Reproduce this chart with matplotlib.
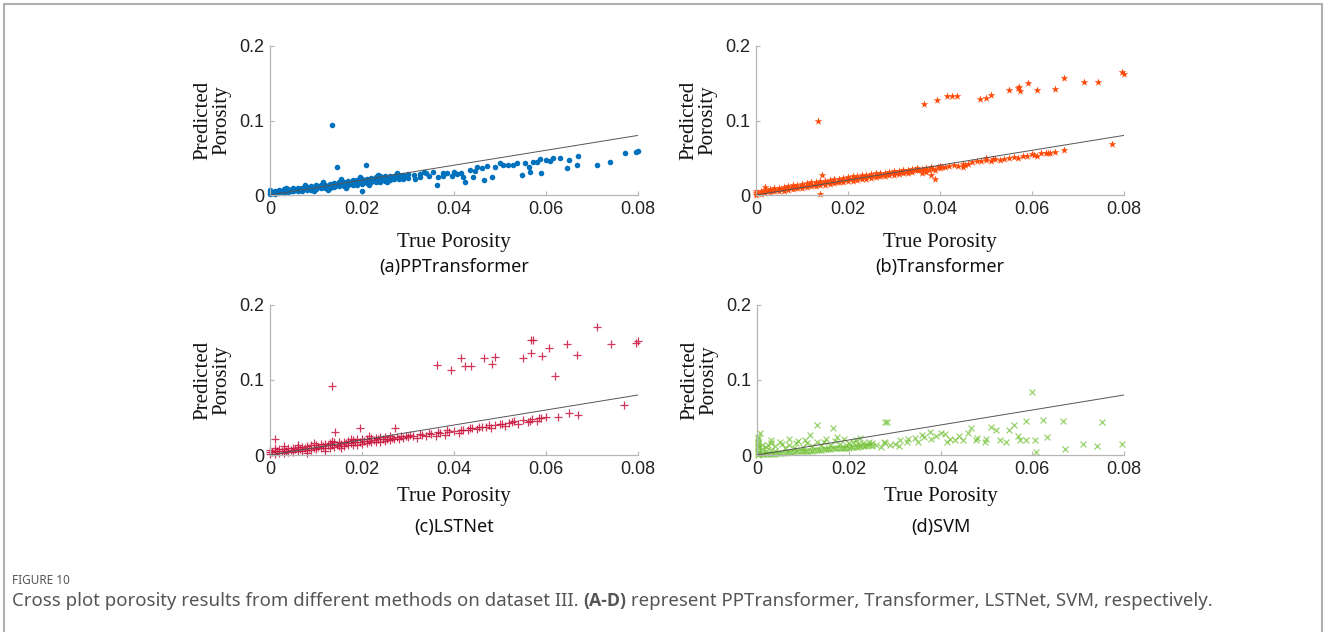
import numpy as np
import matplotlib.pyplot as plt
from matplotlib.patches import Rectangle

# ---- data: (true porosity, predicted porosity) ----
pp_points = [
    (0.000, 0.001), (0.000, 0.004), (0.000, 0.007), (0.001, 0.002), (0.001, 0.006),
    (0.002, 0.003), (0.002, 0.007), (0.003, 0.003), (0.003, 0.008), (0.004, 0.004),
    (0.004, 0.008), (0.005, 0.005), (0.005, 0.009), (0.006, 0.005), (0.006, 0.010),
    (0.007, 0.006), (0.007, 0.010), (0.008, 0.007), (0.008, 0.011), (0.009, 0.007),
    (0.009, 0.012), (0.010, 0.008), (0.010, 0.013), (0.011, 0.009), (0.011, 0.014),
    (0.012, 0.010), (0.012, 0.014), (0.013, 0.010), (0.013, 0.015), (0.014, 0.011),
    (0.014, 0.016), (0.015, 0.012), (0.015, 0.017), (0.016, 0.012), (0.016, 0.018),
    (0.017, 0.013), (0.017, 0.019), (0.018, 0.014), (0.018, 0.020), (0.019, 0.014),
    (0.019, 0.020), (0.020, 0.015), (0.020, 0.021), (0.020, 0.006), (0.021, 0.016),
    (0.021, 0.022), (0.022, 0.017), (0.022, 0.023), (0.023, 0.018), (0.023, 0.024),
    (0.024, 0.018), (0.024, 0.025), (0.025, 0.019), (0.025, 0.025), (0.026, 0.020),
    (0.026, 0.026), (0.027, 0.021), (0.027, 0.026), (0.028, 0.022), (0.028, 0.027),
    (0.029, 0.022), (0.029, 0.027), (0.030, 0.023), (0.030, 0.028),
    (0.0312, 0.027), (0.0326, 0.0246), (0.034, 0.029), (0.0355, 0.031), (0.0362, 0.0134),
    (0.0366, 0.0246), (0.0377, 0.0255), (0.0384, 0.029), (0.0399, 0.031), (0.0406, 0.028),
    (0.042, 0.0246), (0.0424, 0.018), (0.0435, 0.0336), (0.0442, 0.0246), (0.045, 0.038),
    (0.046, 0.0358), (0.0465, 0.020), (0.0471, 0.039), (0.0482, 0.0246), (0.0489, 0.038),
    (0.050, 0.0425), (0.0507, 0.040), (0.0518, 0.040), (0.0529, 0.040), (0.0536, 0.0425),
    (0.0547, 0.027), (0.0554, 0.0425), (0.0562, 0.038), (0.0565, 0.031), (0.0572, 0.0447),
    (0.058, 0.0447), (0.0587, 0.048), (0.059, 0.030), (0.0601, 0.047), (0.0609, 0.046),
    (0.0616, 0.049), (0.063, 0.049), (0.0645, 0.0358), (0.0649, 0.047), (0.0667, 0.040),
    (0.0669, 0.0523), (0.071, 0.040), (0.0739, 0.0447), (0.0772, 0.0568), (0.0796, 0.0582),
    (0.0800, 0.0595),
    (0.0134, 0.094), (0.0145, 0.038), (0.0209, 0.040),
]
pp_band = [
    (0.0005, 0.003), (0.0015, 0.004), (0.0025, 0.005), (0.0035, 0.006), (0.0045, 0.006),
    (0.0055, 0.007), (0.0065, 0.008), (0.0075, 0.009), (0.0085, 0.009), (0.0095, 0.010),
    (0.0105, 0.011), (0.0115, 0.012), (0.0125, 0.012), (0.0135, 0.013), (0.0145, 0.014),
    (0.0155, 0.015), (0.0165, 0.016), (0.0175, 0.016), (0.0185, 0.017), (0.0195, 0.018),
    (0.0205, 0.019), (0.0215, 0.019), (0.0225, 0.020), (0.0235, 0.021), (0.0245, 0.022),
    (0.0255, 0.022), (0.0265, 0.023), (0.0275, 0.024), (0.0285, 0.025), (0.0295, 0.025),
    (0.0325, 0.028), (0.0345, 0.026), (0.0375, 0.030), (0.0415, 0.030), (0.0445, 0.032),
    (0.0095, 0.005), (0.0125, 0.007), (0.0165, 0.010), (0.0215, 0.013), (0.0255, 0.017),
    (0.0035, 0.010), (0.0075, 0.013), (0.0115, 0.017), (0.0155, 0.021), (0.0195, 0.024),
    (0.0235, 0.027), (0.0275, 0.030), (0.0315, 0.022), (0.0335, 0.031), (0.0395, 0.026),
]

tf_points = [
    (0.000, 0.000), (0.000, 0.003), (0.000, 0.006), (0.001, 0.002), (0.001, 0.005),
    (0.002, 0.011), (0.002, 0.003), (0.002, 0.007), (0.003, 0.004), (0.003, 0.008),
    (0.004, 0.005), (0.004, 0.009), (0.005, 0.006), (0.005, 0.010), (0.006, 0.006),
    (0.006, 0.011), (0.007, 0.007), (0.007, 0.012), (0.008, 0.008), (0.008, 0.013),
    (0.009, 0.009), (0.009, 0.014), (0.010, 0.010), (0.010, 0.015), (0.011, 0.011),
    (0.011, 0.016), (0.012, 0.012), (0.012, 0.017), (0.013, 0.012), (0.013, 0.018),
    (0.014, 0.013), (0.014, 0.019), (0.014, 0.002), (0.0143, 0.027), (0.015, 0.014),
    (0.015, 0.019), (0.016, 0.015), (0.016, 0.020), (0.017, 0.016), (0.017, 0.021),
    (0.018, 0.017), (0.018, 0.022), (0.019, 0.018), (0.019, 0.023), (0.020, 0.019),
    (0.020, 0.024), (0.021, 0.019), (0.021, 0.025), (0.022, 0.020), (0.022, 0.026),
    (0.023, 0.021), (0.023, 0.027), (0.024, 0.022), (0.024, 0.027), (0.025, 0.023),
    (0.025, 0.028), (0.026, 0.024), (0.026, 0.029), (0.027, 0.025), (0.027, 0.030),
    (0.028, 0.026), (0.028, 0.030), (0.029, 0.027), (0.029, 0.031), (0.030, 0.027),
    (0.030, 0.032), (0.031, 0.028), (0.031, 0.032), (0.032, 0.029), (0.032, 0.033),
    (0.033, 0.030), (0.033, 0.034), (0.034, 0.031), (0.034, 0.035), (0.035, 0.033),
    (0.035, 0.036), (0.036, 0.030), (0.036, 0.035), (0.037, 0.031), (0.037, 0.036),
    (0.038, 0.027), (0.038, 0.037), (0.039, 0.022), (0.039, 0.034), (0.040, 0.036),
    (0.040, 0.039), (0.041, 0.038), (0.043, 0.040), (0.044, 0.039), (0.045, 0.042),
    (0.045, 0.038), (0.046, 0.041), (0.047, 0.044), (0.048, 0.045), (0.050, 0.047),
    (0.050, 0.050), (0.051, 0.046), (0.052, 0.048), (0.053, 0.047), (0.054, 0.048),
    (0.055, 0.050), (0.057, 0.049), (0.058, 0.052), (0.059, 0.053), (0.060, 0.055),
    (0.061, 0.053), (0.062, 0.056), (0.063, 0.056), (0.064, 0.057), (0.065, 0.058),
    (0.067, 0.061), (0.0773, 0.0685),
    (0.01355, 0.0998), (0.0365, 0.1221), (0.0393, 0.1275), (0.0415, 0.1329),
    (0.0426, 0.1329), (0.0438, 0.1329), (0.0486, 0.1289), (0.0501, 0.1298),
    (0.0510, 0.1338), (0.0551, 0.141), (0.0570, 0.144), (0.0572, 0.1445),
    (0.0574, 0.140), (0.0592, 0.151), (0.0610, 0.141), (0.0649, 0.1423),
    (0.0670, 0.1566), (0.0714, 0.152), (0.0743, 0.152), (0.0796, 0.165), (0.0800, 0.162),
]
tf_band = [
    (0.0005, 0.003), (0.0015, 0.004), (0.0025, 0.005), (0.0035, 0.006), (0.0045, 0.007),
    (0.0055, 0.008), (0.0065, 0.009), (0.0075, 0.010), (0.0085, 0.010), (0.0095, 0.011),
    (0.0105, 0.012), (0.0115, 0.013), (0.0125, 0.014), (0.0135, 0.015), (0.0145, 0.016),
    (0.0155, 0.017), (0.0165, 0.017), (0.0175, 0.018), (0.0185, 0.019), (0.0195, 0.020),
    (0.0205, 0.021), (0.0215, 0.022), (0.0225, 0.023), (0.0235, 0.024), (0.0245, 0.025),
    (0.0255, 0.026), (0.0265, 0.026), (0.0275, 0.027), (0.0285, 0.028), (0.0295, 0.029),
    (0.0305, 0.030), (0.0315, 0.031), (0.0325, 0.031), (0.0335, 0.032), (0.0345, 0.033),
    (0.0355, 0.034), (0.0365, 0.033), (0.0375, 0.034), (0.0385, 0.035), (0.0395, 0.037),
    (0.0405, 0.037), (0.042, 0.039), (0.0455, 0.040), (0.049, 0.046), (0.0515, 0.048),
    (0.056, 0.051), (0.0605, 0.054), (0.0635, 0.057),
]

lst_points = [
    (0.000, 0.001), (0.000, 0.004), (0.000, 0.007), (0.001, 0.002), (0.001, 0.006),
    (0.0011, 0.0213), (0.002, 0.003), (0.002, 0.008), (0.003, 0.003), (0.003, 0.008),
    (0.004, 0.004), (0.004, 0.009), (0.005, 0.004), (0.005, 0.010), (0.006, 0.005),
    (0.006, 0.011), (0.007, 0.006), (0.007, 0.011), (0.008, 0.007), (0.008, 0.012),
    (0.009, 0.007), (0.009, 0.013), (0.010, 0.008), (0.010, 0.014), (0.011, 0.009),
    (0.011, 0.015), (0.012, 0.009), (0.012, 0.015), (0.013, 0.010), (0.013, 0.016),
    (0.014, 0.011), (0.014, 0.017), (0.0141, 0.031), (0.015, 0.012), (0.015, 0.018),
    (0.016, 0.012), (0.016, 0.018), (0.017, 0.013), (0.017, 0.019), (0.018, 0.014),
    (0.018, 0.020), (0.019, 0.014), (0.019, 0.021), (0.0196, 0.0356), (0.020, 0.015),
    (0.020, 0.021), (0.021, 0.016), (0.021, 0.022), (0.022, 0.017), (0.022, 0.023),
    (0.023, 0.017), (0.023, 0.023), (0.024, 0.018), (0.024, 0.024), (0.025, 0.019),
    (0.025, 0.024), (0.026, 0.020), (0.026, 0.025), (0.0272, 0.036), (0.027, 0.021),
    (0.028, 0.022), (0.029, 0.023), (0.030, 0.024), (0.031, 0.026), (0.032, 0.023),
    (0.033, 0.027), (0.034, 0.025), (0.035, 0.028), (0.036, 0.026), (0.037, 0.029),
    (0.038, 0.027), (0.039, 0.031), (0.040, 0.032), (0.041, 0.030), (0.042, 0.034),
    (0.043, 0.033), (0.044, 0.036), (0.045, 0.035), (0.046, 0.037), (0.047, 0.038),
    (0.048, 0.036), (0.049, 0.040), (0.050, 0.042), (0.051, 0.039), (0.052, 0.043),
    (0.053, 0.045), (0.054, 0.041), (0.055, 0.047), (0.056, 0.044), (0.057, 0.048),
    (0.058, 0.046), (0.059, 0.050), (0.060, 0.051), (0.0627, 0.051), (0.0649, 0.0556),
    (0.067, 0.0533), (0.077, 0.0667),
    (0.0134, 0.0924), (0.0364, 0.120), (0.0393, 0.114), (0.0415, 0.1289),
    (0.0424, 0.119), (0.0437, 0.119), (0.0465, 0.1298), (0.0482, 0.121),
    (0.0489, 0.131), (0.0549, 0.1289), (0.0567, 0.1356), (0.0567, 0.1533),
    (0.0572, 0.1533), (0.0591, 0.1324), (0.0607, 0.1422), (0.0620, 0.1058),
    (0.0646, 0.1476), (0.0667, 0.1333), (0.0710, 0.1707), (0.0741, 0.148),
    (0.0796, 0.150), (0.0799, 0.1524),
]
lst_band = [
    (0.0005, 0.004), (0.0015, 0.005), (0.0025, 0.005), (0.0035, 0.006), (0.0045, 0.007),
    (0.0055, 0.008), (0.0065, 0.008), (0.0075, 0.009), (0.0085, 0.010), (0.0095, 0.010),
    (0.0105, 0.011), (0.0115, 0.012), (0.0125, 0.013), (0.0135, 0.013), (0.0145, 0.014),
    (0.0155, 0.015), (0.0165, 0.016), (0.0175, 0.016), (0.0185, 0.017), (0.0195, 0.018),
    (0.0205, 0.019), (0.0215, 0.019), (0.0225, 0.020), (0.0235, 0.021), (0.0245, 0.022),
    (0.0255, 0.022), (0.0265, 0.023), (0.0275, 0.024), (0.0285, 0.025), (0.0295, 0.026),
    (0.0305, 0.027), (0.0325, 0.028), (0.0345, 0.030), (0.0365, 0.031), (0.0385, 0.033),
    (0.0415, 0.033), (0.0435, 0.036), (0.0455, 0.038), (0.0475, 0.040), (0.0505, 0.041),
    (0.0525, 0.044), (0.0565, 0.045), (0.0585, 0.049),
    (0.001, 0.010), (0.003, 0.012), (0.006, 0.013), (0.008, 0.003), (0.012, 0.005),
    (0.0095, 0.016), (0.0135, 0.019), (0.0175, 0.022), (0.0215, 0.025), (0.0155, 0.009),
]

svm_points = [
    (0.0002, 0.000), (0.0002, 0.003), (0.0002, 0.006), (0.0002, 0.009), (0.0002, 0.012),
    (0.0002, 0.015), (0.0002, 0.018), (0.0002, 0.021), (0.0003, 0.024), (0.0007, 0.029),
    (0.001, 0.002), (0.001, 0.008), (0.001, 0.014), (0.002, 0.001), (0.002, 0.005),
    (0.002, 0.011), (0.003, 0.002), (0.003, 0.007), (0.003, 0.016), (0.004, 0.002),
    (0.004, 0.006), (0.004, 0.012), (0.005, 0.003), (0.005, 0.0178), (0.006, 0.003),
    (0.006, 0.009), (0.007, 0.004), (0.007, 0.014), (0.008, 0.004), (0.008, 0.010),
    (0.009, 0.005), (0.009, 0.019), (0.010, 0.005), (0.010, 0.011), (0.011, 0.006),
    (0.011, 0.016), (0.0116, 0.0267), (0.012, 0.006), (0.012, 0.012), (0.013, 0.040),
    (0.013, 0.007), (0.013, 0.018), (0.014, 0.007), (0.014, 0.013), (0.015, 0.008),
    (0.015, 0.022), (0.016, 0.008), (0.016, 0.014), (0.0165, 0.0356), (0.017, 0.009),
    (0.017, 0.019), (0.018, 0.009), (0.018, 0.015), (0.019, 0.010), (0.019, 0.021),
    (0.020, 0.010), (0.020, 0.016), (0.021, 0.011), (0.021, 0.018), (0.022, 0.011),
    (0.022, 0.015), (0.0225, 0.0222), (0.023, 0.012), (0.023, 0.016), (0.024, 0.013),
    (0.025, 0.0156), (0.025, 0.012),
    (0.0276, 0.0178), (0.0279, 0.0444), (0.0283, 0.0444), (0.029, 0.0133), (0.0312, 0.020),
    (0.0326, 0.0178), (0.0344, 0.0222), (0.0363, 0.0244), (0.0377, 0.031), (0.040, 0.029),
    (0.0414, 0.0178), (0.0432, 0.020), (0.045, 0.020), (0.0467, 0.0356), (0.0478, 0.020),
    (0.0496, 0.0178), (0.051, 0.0378), (0.053, 0.020), (0.0543, 0.018), (0.056, 0.040),
    (0.0574, 0.020), (0.0587, 0.020), (0.0587, 0.0453), (0.0599, 0.0844), (0.0606, 0.020),
    (0.0609, 0.0044), (0.0623, 0.0467), (0.0632, 0.0244), (0.0668, 0.0453), (0.0672, 0.008),
    (0.0711, 0.0142), (0.0741, 0.0124), (0.0752, 0.0444), (0.0795, 0.0142),
]
svm_band = [
    (0.0005, 0.001), (0.0015, 0.001), (0.0025, 0.002), (0.0035, 0.002), (0.0045, 0.003),
    (0.0055, 0.003), (0.0065, 0.004), (0.0075, 0.004), (0.0085, 0.005), (0.0095, 0.005),
    (0.0105, 0.006), (0.0115, 0.006), (0.0125, 0.007), (0.0135, 0.007), (0.0145, 0.008),
    (0.0155, 0.008), (0.0165, 0.009), (0.0175, 0.009), (0.0185, 0.010), (0.0195, 0.010),
    (0.0205, 0.011), (0.0215, 0.011), (0.0225, 0.012), (0.0235, 0.012), (0.0245, 0.013),
    (0.0025, 0.013), (0.0055, 0.015), (0.0085, 0.016), (0.0105, 0.020), (0.0145, 0.017),
    (0.0175, 0.024), (0.0195, 0.014), (0.0215, 0.020), (0.0245, 0.017), (0.003, 0.020),
    (0.007, 0.022), (0.026, 0.014), (0.027, 0.011), (0.028, 0.016), (0.030, 0.015),
    (0.031, 0.012), (0.033, 0.021), (0.035, 0.018), (0.036, 0.027), (0.038, 0.021),
    (0.039, 0.026), (0.041, 0.028), (0.042, 0.022), (0.044, 0.025), (0.046, 0.029),
    (0.048, 0.023), (0.050, 0.021), (0.052, 0.033), (0.055, 0.034), (0.057, 0.026),
]

panel_titles = ['(a)PPTransformer', '(b)Transformer', '(c)LSTNet', '(d)SVM']
panel_colors = ['#0072BD', '#FF4B0A', '#C8143C', '#6CBF2C']
panel_markers = ['o', '*', '+', 'x']
panel_sizes = [16, 34, 30, 18]
x_ticks = [0, 0.02, 0.04, 0.06, 0.08]
y_ticks = [0, 0.1, 0.2]

W, H = 1328, 632
fig = plt.figure(figsize=(W / 100, H / 100), dpi=100)

# outer frame of the figure page
fig.patches.append(Rectangle((4 / W, -0.05), (1322 - 4) / W, 1.05 - 4 / H,
                             transform=fig.transFigure, fill=False,
                             edgecolor='#b0b0b0', linewidth=1.5))

# axes boxes in pixels: left, right, y of 0, y of 0.2
boxes = [(270, 638, 195, 46), (756, 1124, 195, 46),
         (270, 638, 455, 305), (757, 1124, 455, 305)]
title_y = [267, 267, 527, 527]
xlab_y = [242, 242, 496, 496]
all_points = [pp_points + pp_band, tf_points + tf_band,
              lst_points + lst_band, svm_points + svm_band]

for i, (l, r, y0, y1) in enumerate(boxes):
    ax = fig.add_axes([l / W, 1 - y0 / H, (r - l) / W, (y0 - y1) / H])
    pts = np.array(all_points[i])
    if panel_markers[i] in ('+', 'x'):
        ax.scatter(pts[:, 0], pts[:, 1], s=panel_sizes[i], marker=panel_markers[i],
                   color=panel_colors[i], linewidths=0.9,
                   alpha=0.85 if i == 2 else 0.7, zorder=2, clip_on=False)
    else:
        ax.scatter(pts[:, 0], pts[:, 1], s=panel_sizes[i], marker=panel_markers[i],
                   color=panel_colors[i], linewidths=0, zorder=2, clip_on=False)
    ax.plot([0, 0.08], [0, 0.08], color='#555555', linewidth=0.7, zorder=3)
    ax.set_xlim(0, 0.08)
    ax.set_ylim(0, 0.2)
    ax.set_xticks(x_ticks)
    ax.set_xticklabels(['0', '0.02', '0.04', '0.06', '0.08'])
    ax.set_yticks(y_ticks)
    ax.set_yticklabels(['0', '0.1', '0.2'])
    for s in ['top', 'right']:
        ax.spines[s].set_visible(False)
    for s in ['left', 'bottom']:
        ax.spines[s].set_color('#b5b5b5')
        ax.spines[s].set_linewidth(0.9)
    ax.tick_params(direction='in', length=3, color='#b5b5b5', pad=4,
                   labelsize=13, labelcolor='#222222')
    for lab in ax.get_xticklabels() + ax.get_yticklabels():
        lab.set_family('Liberation Sans')
    ax.patch.set_alpha(0)

    cx = (l + r) / 2
    fig.text(cx / W, 1 - xlab_y[i] / H, 'True Porosity', ha='center', va='center',
             family='Liberation Serif', fontsize=15, color='#111111')
    fig.text((l - 58) / W, 1 - (y0 + y1) / 2 / H, 'Predicted\nPorosity', ha='center',
             va='center', rotation=90, family='Liberation Serif', fontsize=15,
             color='#111111', linespacing=1.0)
    fig.text(cx / W, 1 - title_y[i] / H, panel_titles[i], ha='center', va='center',
             family='Noto Sans', fontsize=13, color='#111111')

# caption
fig.text(12 / W, 1 - 581 / H, 'FIGURE 10', ha='left', va='center',
         family='Noto Sans', fontsize=8.5, color='#555555')
cap = fig.text(12 / W, 1 - 601 / H,
               'Cross plot porosity results from different methods on dataset III. ',
               ha='left', va='center', family='Noto Sans', fontsize=13.4, color='#555555')
fig.canvas.draw()
bb = cap.get_window_extent()
t2 = fig.text(bb.x1 / W, 1 - 601 / H, '(A-D)', ha='left', va='center',
              family=['Open Sans', 'DejaVu Sans'], fontsize=12.8, color='#555555',
              fontweight='bold')
fig.canvas.draw()
bb2 = t2.get_window_extent()
fig.text(bb2.x1 / W, 1 - 601 / H,
         ' represent PPTransformer, Transformer, LSTNet, SVM, respectively.',
         ha='left', va='center', family='Noto Sans', fontsize=13.4, color='#555555')

fig.savefig('out.png', dpi=100)
